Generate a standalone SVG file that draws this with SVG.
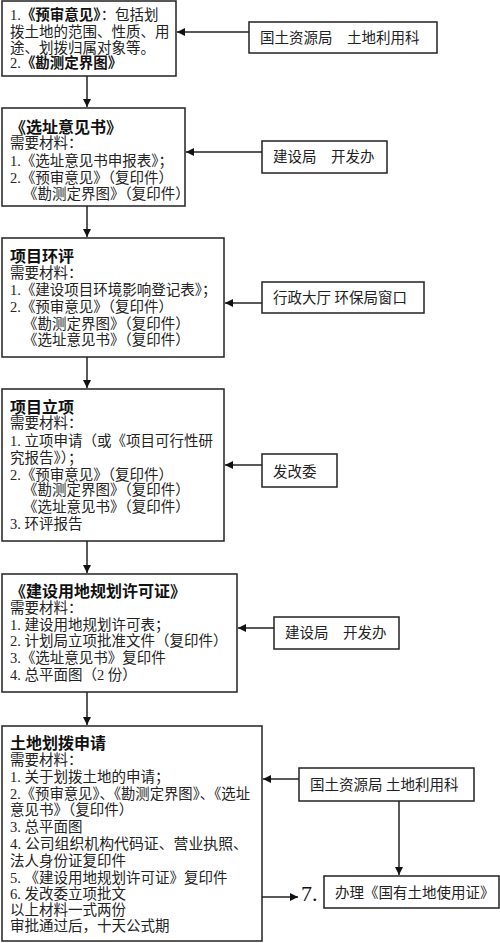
<svg xmlns="http://www.w3.org/2000/svg" width="500" height="943" viewBox="0 0 500 943">
<defs>
<style>
.box{fill:#fff;stroke:#222;stroke-width:1.5}
.t{font-family:"Liberation Serif","Noto Sans CJK SC",serif;font-size:14.5px;fill:#222}
.h{font-family:"Liberation Serif","Noto Sans CJK SC",serif;font-size:16px;font-weight:bold;fill:#111}
.b{font-weight:bold;fill:#111}
.ln{stroke:#222;stroke-width:1.5;fill:none}
</style>
<marker id="ah" viewBox="0 0 10 10" refX="10" refY="5" markerWidth="8" markerHeight="8" markerUnits="userSpaceOnUse" orient="auto">
<path d="M0,0 L10,5 L0,10 z" fill="#111"/>
</marker>
</defs>
<rect width="500" height="943" fill="#fff"/>

<g id="n1">
<rect class="box" x="2" y="1" width="174" height="75"/>
<text class="t" x="10" y="20">1.<tspan class="b">《预审意见》</tspan>：包括划</text>
<text class="t" x="10" y="37">拨土地的范围、性质、用</text>
<text class="t" x="10" y="53">途、划拨归属对象等。</text>
<text class="t" x="10" y="68">2.<tspan class="b">《勘测定界图》</tspan></text>
</g>
<g id="r1">
<rect class="box" x="249" y="22" width="188" height="31"/>
<text class="t" x="260" y="43">国土资源局　土地利用科</text>
</g>

<g id="n2">
<rect class="box" x="2" y="108" width="183" height="98"/>
<text class="h" x="10" y="133">《选址意见书》</text>
<text class="t" x="10" y="148">需要材料：</text>
<text class="t" x="10" y="166">1.《选址意见书申报表》；</text>
<text class="t" x="10" y="183">2.《预审意见》（复印件）</text>
<text class="t" x="23" y="199">《勘测定界图》（复印件）</text>
</g>
<g id="r2">
<rect class="box" x="262" y="141" width="125" height="32"/>
<text class="t" x="273" y="162">建设局　开发办</text>
</g>

<g id="n3">
<rect class="box" x="2" y="238" width="222" height="119"/>
<text class="h" x="10" y="262">项目环评</text>
<text class="t" x="10" y="278">需要材料：</text>
<text class="t" x="10" y="295">1.《建设项目环境影响登记表》；</text>
<text class="t" x="10" y="312">2.《预审意见》（复印件）</text>
<text class="t" x="23" y="329">《勘测定界图》（复印件）</text>
<text class="t" x="23" y="345">《选址意见书》（复印件）</text>
</g>
<g id="r3">
<rect class="box" x="262" y="282" width="162" height="31"/>
<text class="t" x="273" y="303">行政大厅 环保局窗口</text>
</g>

<g id="n4">
<rect class="box" x="2" y="389" width="222" height="152"/>
<text class="h" x="10" y="413">项目立项</text>
<text class="t" x="10" y="428">需要材料：</text>
<text class="t" x="10" y="446">1. 立项申请（或《项目可行性研</text>
<text class="t" x="10" y="463">究报告》）；</text>
<text class="t" x="10" y="480">2.《预审意见》（复印件）</text>
<text class="t" x="23" y="495">《勘测定界图》（复印件）</text>
<text class="t" x="23" y="512">《选址意见书》（复印件）</text>
<text class="t" x="10" y="529">3. 环评报告</text>
</g>
<g id="r4">
<rect class="box" x="262" y="454" width="75" height="33"/>
<text class="t" x="273" y="477">发改委</text>
</g>

<g id="n5">
<rect class="box" x="2" y="574" width="235" height="118"/>
<text class="h" x="10" y="597">《建设用地规划许可证》</text>
<text class="t" x="10" y="613">需要材料：</text>
<text class="t" x="10" y="630">1. 建设用地规划许可表；</text>
<text class="t" x="10" y="646">2. 计划局立项批准文件（复印件）</text>
<text class="t" x="10" y="663">3.《选址意见书》复印件</text>
<text class="t" x="10" y="680">4. 总平面图（2 份）</text>
</g>
<g id="r5">
<rect class="box" x="274" y="617" width="125" height="32"/>
<text class="t" x="285" y="638">建设局　开发办</text>
</g>

<g id="n6">
<rect class="box" x="2" y="726" width="260" height="215"/>
<text class="h" x="10" y="749">土地划拨申请</text>
<text class="t" x="10" y="765">需要材料：</text>
<text class="t" x="10" y="782">1. 关于划拨土地的申请；</text>
<text class="t" x="10" y="799" textLength="240" lengthAdjust="spacingAndGlyphs">2.《预审意见》、《勘测定界图》、《选址</text>
<text class="t" x="10" y="815">意见书》（复印件）</text>
<text class="t" x="10" y="832">3. 总平面图</text>
<text class="t" x="10" y="849" textLength="238" lengthAdjust="spacingAndGlyphs">4. 公司组织机构代码证、营业执照、</text>
<text class="t" x="10" y="866">法人身份证复印件</text>
<text class="t" x="10" y="883">5. 《建设用地规划许可证》复印件</text>
<text class="t" x="10" y="899">6. 发改委立项批文</text>
<text class="t" x="10" y="915">以上材料一式两份</text>
<text class="t" x="10" y="931">审批通过后，十天公式期</text>
</g>
<g id="r6">
<rect class="box" x="299" y="768" width="175" height="33"/>
<text class="t" x="310" y="790">国土资源局 土地利用科</text>
</g>
<g id="n7">
<rect class="box" x="324" y="876" width="175" height="32"/>
<text class="t" x="335" y="898">办理《国有土地使用证》</text>
</g>
<g id="n7label">
<text x="301" y="901" style="font-family:'Liberation Serif',serif;font-size:22px;fill:#111">7.</text>
</g>

<g id="connectors">
<line class="ln" x1="87" y1="76" x2="87" y2="107" marker-end="url(#ah)"/>
<line class="ln" x1="87" y1="206" x2="87" y2="237" marker-end="url(#ah)"/>
<line class="ln" x1="87" y1="357" x2="87" y2="388" marker-end="url(#ah)"/>
<line class="ln" x1="87" y1="541" x2="87" y2="573" marker-end="url(#ah)"/>
<line class="ln" x1="87" y1="692" x2="87" y2="725" marker-end="url(#ah)"/>
<line class="ln" x1="249" y1="32" x2="177" y2="32" marker-end="url(#ah)"/>
<line class="ln" x1="262" y1="152" x2="186" y2="152" marker-end="url(#ah)"/>
<line class="ln" x1="262" y1="303" x2="225" y2="303" marker-end="url(#ah)"/>
<line class="ln" x1="262" y1="465" x2="225" y2="465" marker-end="url(#ah)"/>
<line class="ln" x1="274" y1="628" x2="238" y2="628" marker-end="url(#ah)"/>
<line class="ln" x1="299" y1="779" x2="263" y2="779" marker-end="url(#ah)"/>
<line class="ln" x1="399" y1="801" x2="399" y2="875" marker-end="url(#ah)"/>
<line class="ln" x1="262" y1="897" x2="298" y2="897" marker-end="url(#ah)"/>
</g>
</svg>
